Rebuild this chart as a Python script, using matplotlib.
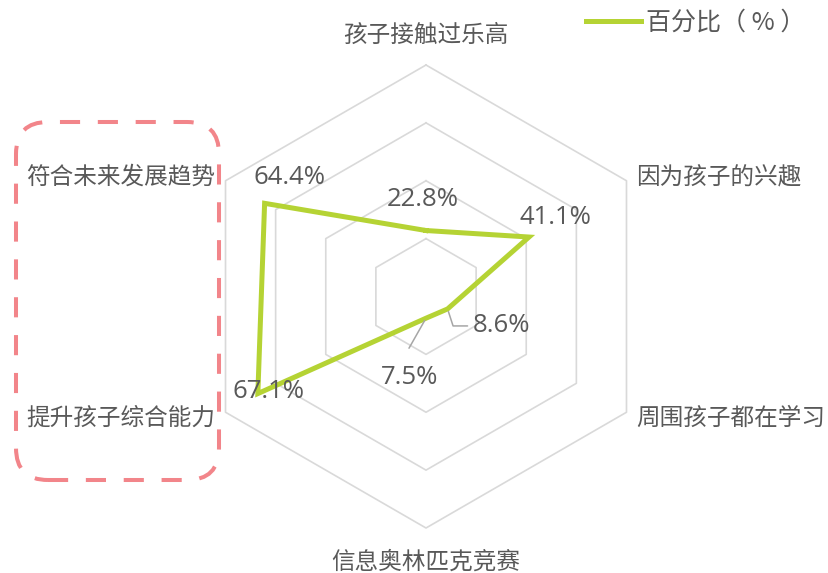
import numpy as np
import matplotlib
matplotlib.use("Agg")
import matplotlib.pyplot as plt
from matplotlib.patches import FancyBboxPatch
from matplotlib.transforms import IdentityTransform

plt.rcParams['font.family'] = ['Noto Sans CJK SC', 'DejaVu Sans']

# Survey data: reasons for learning (clockwise from top)
categories = ['孩子接触过乐高', '因为孩子的兴趣', '周围孩子都在学习',
              '信息奥林匹克竞赛', '提升孩子综合能力', '符合未来发展趋势']
values = [22.8, 41.1, 8.6, 7.5, 67.1, 64.4]
grid_levels = [20, 40, 60, 80]
series_name = '百分比（ % ）'

TEXT = '#595959'
GRID = '#D9D9D9'
LINE = '#B5D334'
BOX = '#F2858A'
NUM_FONT = ['Open Sans', 'DejaVu Sans']
NUM_SIZE = 18.5

W, H = 829, 573
fig = plt.figure(figsize=(W / 100, H / 100), dpi=100)
fig.patch.set_facecolor('white')

cx, cy, R = 426, 296.5, 231.5
ax = fig.add_axes([(cx - R) / W, (H - cy - R) / H, 2 * R / W, 2 * R / H],
                  projection='polar')
ax.set_theta_zero_location('N')
ax.set_theta_direction(-1)
ax.set_ylim(0, 80)
ax.set_xticks([])
ax.set_yticks([])
ax.grid(False)
ax.spines['polar'].set_visible(False)
ax.patch.set_visible(False)

n = len(categories)
theta = np.arange(n) * 2 * np.pi / n
theta_c = np.append(theta, theta[0])

# hexagonal grid
for lv in grid_levels:
    ax.plot(theta_c, [lv] * (n + 1), color=GRID, lw=1.2, clip_on=False, zorder=1)

# data polygon
vals_c = np.append(values, values[0])
line, = ax.plot(theta_c, vals_c, color=LINE, lw=3.6, clip_on=False, zorder=3,
                solid_joinstyle='miter', label=series_name)

# category labels around the outer hexagon
cat_offsets = [(0, 30, 'center'), (10, 2.5, 'left'), (10, -6, 'left'),
               (0, -34, 'center'), (-10, -6, 'right'), (-10, 4, 'right')]
for t, lab, (dx, dy, ha) in zip(theta, categories, cat_offsets):
    ax.annotate(lab, xy=(t, 80), xytext=(dx, dy), textcoords='offset pixels',
                ha=ha, va='center', fontsize=17, color=TEXT, annotation_clip=False)

# value labels
val_offsets = [(-3, 31), (26, 20), (None, None), (-16, -59), (11, 2), (25, 26)]
for t, v, off in zip(theta, values, val_offsets):
    if off[0] is None:
        continue
    ax.annotate(f'{v}%', xy=(t, v), xytext=off, textcoords='offset pixels',
                ha='center', va='center', fontsize=NUM_SIZE, color=TEXT, family=NUM_FONT,
                annotation_clip=False, zorder=4)

# 8.6% label with elbow leader
i = 2
ax.annotate('', xy=(theta[i], values[i]), xytext=(20, -17), textcoords='offset pixels',
            arrowprops=dict(arrowstyle='-', color='#A6A6A6', lw=1.1, shrinkA=0, shrinkB=2,
                            connectionstyle='angle,angleA=0,angleB=-72,rad=0'))
ax.annotate(f'{values[i]}%', xy=(theta[i], values[i]), xytext=(25, -17),
            textcoords='offset pixels', ha='left', va='center', fontsize=NUM_SIZE,
            color=TEXT, family=NUM_FONT)

# 7.5% leader
i = 3
ax.annotate('', xy=(theta[i], values[i]), xytext=(-17, -30), textcoords='offset pixels',
            arrowprops=dict(arrowstyle='-', color='#A6A6A6', lw=1.1, shrinkA=0, shrinkB=2))

# legend
fs_px = 18 * 100 / 72
ax.legend(handles=[line], loc='center left',
          bbox_to_anchor=(586 / W, 1 - 23 / H), bbox_transform=fig.transFigure,
          frameon=False, borderpad=0, borderaxespad=0,
          handlelength=55 / fs_px, handletextpad=5 / fs_px,
          prop={'size': 18}, labelcolor=TEXT)

# dashed highlight box around the two left labels
x0, x1 = 16, 219
y0, y1 = H - 480, H - 122
box = FancyBboxPatch((x0, y0), x1 - x0, y1 - y0,
                     boxstyle='round,pad=0,rounding_size=32',
                     transform=IdentityTransform(), fill=False,
                     edgecolor=BOX, lw=2.9, linestyle=(0, (5, 4.4)))
fig.patches.append(box)

fig.savefig('out.png', dpi=100, facecolor='white')
